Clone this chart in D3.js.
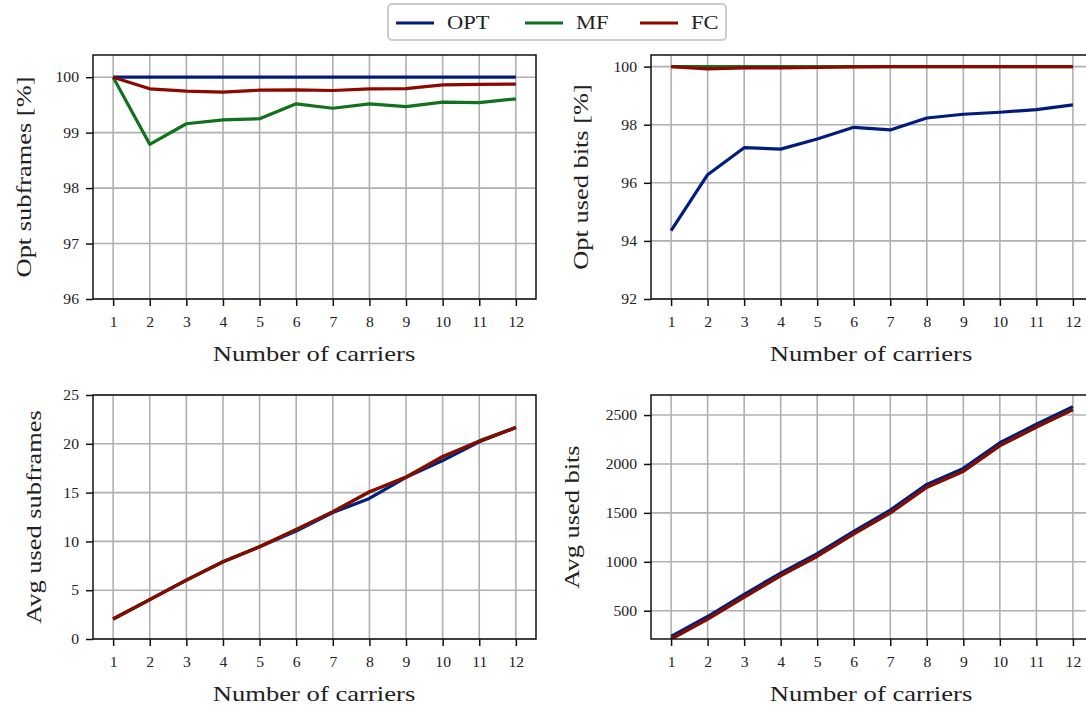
<!DOCTYPE html>
<html>
<head>
<meta charset="utf-8">
<script src="https://cdn.jsdelivr.net/npm/d3@7"></script>
<style>
  body { margin: 0; background: #fff; }
  svg text { font-family: "Liberation Serif", "DejaVu Serif", serif; fill: #222; }
</style>
</head>
<body>
<svg width="1086" height="706"></svg>
<script>
// x values
const carriers = [1, 2, 3, 4, 5, 6, 7, 8, 9, 10, 11, 12];

// Opt subframes [%]
const optSubOPT = [100, 100, 100, 100, 100, 100, 100, 100, 100, 100, 100, 100];
const optSubMF  = [100, 98.79, 99.16, 99.23, 99.25, 99.52, 99.44, 99.52, 99.47, 99.55, 99.54, 99.61];
const optSubFC  = [100, 99.79, 99.75, 99.73, 99.765, 99.77, 99.76, 99.79, 99.795, 99.86, 99.87, 99.875];

// Opt used bits [%]
const optBitsOPT = [94.35, 96.28, 97.21, 97.16, 97.51, 97.91, 97.82, 98.23, 98.36, 98.43, 98.52, 98.68];
const optBitsMF  = [100, 100, 100, 100, 100, 100, 100, 100, 100, 100, 100, 100];
const optBitsFC  = [100, 99.92, 99.96, 99.96, 99.97, 99.99, 100, 100, 100, 100, 100, 100];

// Avg used subframes
const avgSubOPT = [2.05, 4.04, 6.03, 7.9, 9.45, 11.05, 12.95, 14.4, 16.57, 18.28, 20.2, 21.66];
const avgSubMF  = [2.05, 4.04, 6.03, 7.92, 9.45, 11.2, 13.05, 15.05, 16.6, 18.65, 20.3, 21.7];
const avgSubFC  = [2.05, 4.04, 6.03, 7.92, 9.45, 11.23, 13.02, 15.1, 16.57, 18.7, 20.25, 21.66];

// Avg used bits
const avgBitsOPT = [237, 441, 667, 885, 1084, 1312, 1528, 1791, 1955, 2217, 2406, 2586];
const avgBitsMF  = [211, 415, 640, 858, 1057, 1285, 1500, 1762, 1925, 2188, 2378, 2555];
const avgBitsFC  = [211, 415, 640, 858, 1057, 1285, 1500, 1762, 1925, 2188, 2378, 2555];

const seriesNames = ["OPT", "MF", "FC"];
const seriesColors = ["#001c7f", "#12711c", "#8c0800"];

const svg = d3.select("svg");

// stretch text a bit so Liberation Serif looks as wide as Computer Modern
function widen(sel, k) {
  sel.each(function () {
    const w = this.getComputedTextLength();
    d3.select(this).attr("textLength", w * k).attr("lengthAdjust", "spacingAndGlyphs");
  });
}

const panels = [
  { left: 93,  right: 536,  top: 55,  bottom: 299, ydom: [96, 100.4], yticks: [96, 97, 98, 99, 100],
    label: "Opt subframes [%]", labelX: 23, xlabelX: 314, data: [optSubOPT, optSubMF, optSubFC] },
  { left: 651, right: 1093, top: 55,  bottom: 299, ydom: [92, 100.4], yticks: [92, 94, 96, 98, 100],
    label: "Opt used bits [%]", labelX: 580, xlabelX: 871, data: [optBitsOPT, optBitsMF, optBitsFC] },
  { left: 93,  right: 536,  top: 395, bottom: 639, ydom: [0, 25], yticks: [0, 5, 10, 15, 20, 25],
    label: "Avg used subframes", labelX: 33, xlabelX: 314, data: [avgSubOPT, avgSubMF, avgSubFC] },
  { left: 651, right: 1093, top: 395, bottom: 639, ydom: [211, 2705], yticks: [500, 1000, 1500, 2000, 2500],
    label: "Avg used bits", labelX: 571, xlabelX: 871, data: [avgBitsOPT, avgBitsMF, avgBitsFC] }
];

panels.forEach((p, pi) => {
  const x = d3.scaleLinear().domain([0.45, 12.55]).range([p.left, p.right]);
  const y = d3.scaleLinear().domain(p.ydom).range([p.bottom, p.top]);
  const g = svg.append("g");

  const clipId = "clip" + pi;
  g.append("clipPath").attr("id", clipId)
    .append("rect")
    .attr("x", p.left).attr("y", p.top)
    .attr("width", p.right - p.left).attr("height", p.bottom - p.top);

  // grid
  g.selectAll(".vgrid").data(carriers).join("line")
    .attr("x1", d => x(d)).attr("x2", d => x(d))
    .attr("y1", p.top).attr("y2", p.bottom)
    .attr("stroke", "#b0b0b0").attr("stroke-width", 1.6);
  g.selectAll(".hgrid").data(p.yticks).join("line")
    .attr("x1", p.left).attr("x2", p.right)
    .attr("y1", d => y(d)).attr("y2", d => y(d))
    .attr("stroke", "#b0b0b0").attr("stroke-width", 1.6);

  // lines
  const line = d3.line().x((d, i) => x(carriers[i])).y(d => y(d));
  p.data.forEach((vals, si) => {
    g.append("path")
      .datum(vals)
      .attr("clip-path", `url(#${clipId})`)
      .attr("fill", "none")
      .attr("stroke", seriesColors[si])
      .attr("stroke-width", 3.2)
      .attr("stroke-linejoin", "round")
      .attr("d", line);
  });

  // frame
  g.append("rect")
    .attr("x", p.left).attr("y", p.top)
    .attr("width", p.right - p.left).attr("height", p.bottom - p.top)
    .attr("fill", "none").attr("stroke", "#111").attr("stroke-width", 1.5);

  // axes
  const xAxis = g.append("g")
    .attr("transform", `translate(0,${p.bottom})`)
    .call(d3.axisBottom(x).tickValues(carriers).tickSize(7).tickPadding(11).tickFormat(d3.format("d")));
  const yAxis = g.append("g")
    .attr("transform", `translate(${p.left},0)`)
    .call(d3.axisLeft(y).tickValues(p.yticks).tickSize(7).tickPadding(7).tickFormat(d3.format("d")));
  [xAxis, yAxis].forEach(a => {
    a.select(".domain").remove();
    a.selectAll(".tick line").attr("stroke", "#111").attr("stroke-width", 1.5);
    a.selectAll(".tick text")
      .attr("font-family", "Liberation Serif, serif")
      .attr("font-size", 14.5).attr("fill", "#222");
    widen(a.selectAll(".tick text"), 1.08);
  });

  // axis labels
  g.append("text")
    .attr("x", p.xlabelX)
    .attr("y", p.bottom + 62)
    .attr("text-anchor", "middle")
    .attr("font-size", 22)
    .text("Number of carriers")
    .call(widen, 1.21);
  g.append("text")
    .attr("transform", `translate(${p.labelX},${(p.top + p.bottom) / 2}) rotate(-90)`)
    .attr("text-anchor", "middle")
    .attr("dominant-baseline", "central")
    .attr("font-size", 22)
    .text(p.label)
    .call(widen, 1.2);
});

// legend
const legend = svg.append("g");
legend.append("rect")
  .attr("x", 388).attr("y", 4).attr("width", 338).attr("height", 36)
  .attr("rx", 4).attr("fill", "#fff")
  .attr("stroke", "#cccccc").attr("stroke-width", 2);
const legendX = [396, 525, 640];
seriesNames.forEach((name, i) => {
  legend.append("line")
    .attr("x1", legendX[i]).attr("x2", legendX[i] + 38)
    .attr("y1", 23).attr("y2", 23)
    .attr("stroke", seriesColors[i]).attr("stroke-width", 3.2);
  legend.append("text")
    .attr("x", legendX[i] + 51).attr("y", 29)
    .attr("font-size", 18)
    .text(name)
    .call(widen, 1.25);
});
</script>
</body>
</html>
